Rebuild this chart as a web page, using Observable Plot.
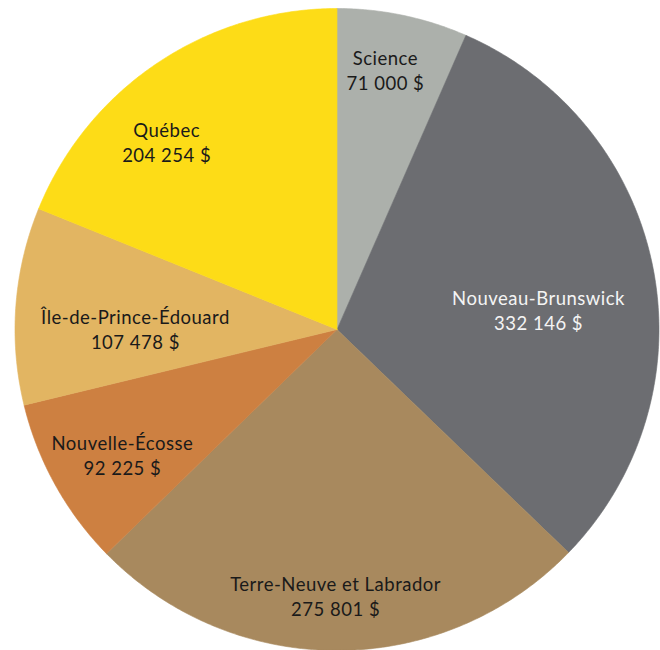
<!DOCTYPE html>
<html>
<head>
<meta charset="utf-8">
<script src="https://cdn.jsdelivr.net/npm/d3@7"></script>
<script src="https://cdn.jsdelivr.net/npm/@observablehq/plot@0.6"></script>
<style>
  html, body { margin: 0; padding: 0; background: #fff; }
  #chart svg { display: block; }
</style>
</head>
<body>
<div id="chart"></div>
<script>
// ---- data ----
const categories = ["Science", "Nouveau-Brunswick", "Terre-Neuve et Labrador", "Nouvelle-Écosse", "Île-de-Prince-Édouard", "Québec"];
const values = [71000, 332146, 275801, 92225, 107478, 204254];

// ---- styling / layout ----
const colors = ["#acb0ab", "#6c6d71", "#a8895e", "#cd8041", "#e2b562", "#fddc17"];
const textColors = ["#1a1a1a", "#f4f4f4", "#1a1a1a", "#1a1a1a", "#1a1a1a", "#1a1a1a"];
const labelRadius = [0.825, 0.629, 0.828, 0.772, 0.626, 0.789];
const labelAngleDeg = [10.5, 84.3, 180.3, 239.7, 270.4, 317.9];

const fmt = v => d3.format(",")(v).replace(/,/g, " ") + " $";

const table = categories.map((c, i) => ({category: c, value: values[i]}));
const arcs = d3.pie().sort(null).value(d => d.value)(table);

// polygon outline for each slice
const pts = [];
arcs.forEach(a => {
  const c = a.data.category;
  pts.push({category: c, x: 0, y: 0});
  const n = Math.max(2, Math.ceil((a.endAngle - a.startAngle) / (Math.PI / 360)));
  for (let k = 0; k <= n; k++) {
    const t = a.startAngle + (a.endAngle - a.startAngle) * k / n;
    pts.push({category: c, x: Math.sin(t), y: Math.cos(t)});
  }
  pts.push({category: c, x: 0, y: 0});
});

const labels = arcs.map((a, i) => {
  const t = labelAngleDeg[i] * Math.PI / 180;
  return {
    category: a.data.category,
    text: a.data.category + "\n" + fmt(a.data.value),
    x: labelRadius[i] * Math.sin(t),
    y: labelRadius[i] * Math.cos(t),
    color: textColors[i]
  };
});

const chart = Plot.plot({
  width: 660,
  height: 650,
  marginLeft: 14.5,
  marginRight: 1.5,
  marginTop: 8,
  marginBottom: 0,
  x: {domain: [-1, 1], axis: null},
  y: {domain: [-1, 1], axis: null},
  color: {domain: categories, range: colors},
  style: {fontFamily: "Lato, 'Open Sans', sans-serif", background: "#fff", letterSpacing: "0.5px"},
  marks: [
    Plot.line(pts, {x: "x", y: "y", z: "category", fill: "category", stroke: "category", strokeWidth: 0.6, curve: "linear"}),
    Plot.text(labels, {x: "x", y: "y", text: "text", fill: d => d.color, fontSize: 18.5, lineHeight: 1.36, textAnchor: "middle", lineAnchor: "middle"})
  ]
});
document.getElementById("chart").appendChild(chart);
</script>
</body>
</html>
